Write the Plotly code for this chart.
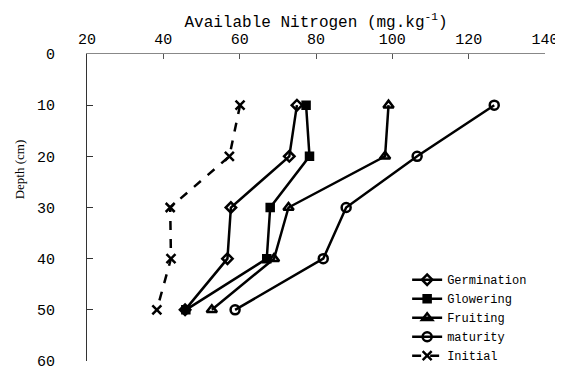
import plotly.graph_objects as go

depth = [10, 20, 30, 40, 50]
germination = [75.0, 73.0, 57.7, 56.8, 45.7]
glowering = [77.4, 78.3, 68.0, 67.1, 45.9]
fruiting = [99.0, 98.1, 72.8, 69.0, 52.7]
maturity = [126.7, 106.5, 87.9, 81.9, 58.8]
initial = [60.1, 57.3, 41.8, 42.0, 38.3]

x_ticks = [20, 40, 60, 80, 100, 120, 140]
y_ticks = [0, 10, 20, 30, 40, 50, 60]

series = [
    ("Germination", germination, "diamond-open", 8, "solid"),
    ("Glowering", glowering, "square", 7, "solid"),
    ("Fruiting", fruiting, "triangle-up-open", 9, "solid"),
    ("maturity", maturity, "circle-open", 9, "solid"),
    ("Initial", initial, "x-thin-open", 9, "dash"),
]

MONO = "Liberation Mono"

fig = go.Figure()
for name, vals, sym, size, dash in series:
    fig.add_trace(go.Scatter(
        x=vals, y=depth, mode="lines+markers", name=name,
        line=dict(color="black", width=2.5, dash=dash),
        marker=dict(symbol=sym, size=size, color="black",
                    line=dict(color="black", width=2.5)),
    ))

# The page body has an 8px margin, so the figure is 8px smaller on each axis.
fig.update_layout(
    width=555, height=363,
    margin=dict(l=79, r=18, t=46, b=10, autoexpand=False),
    paper_bgcolor="white", plot_bgcolor="white",
    font=dict(family=MONO, size=15, color="black"),
    showlegend=True,
    legend=dict(x=0.699, xanchor="left", y=-0.03, yanchor="bottom",
                bgcolor="rgba(0,0,0,0)", font=dict(family=MONO, size=12),
                itemwidth=30, tracegroupgap=0),
    xaxis=dict(side="top", range=[20, 140], tickvals=x_ticks,
               ticks="inside", ticklen=5, tickcolor="#555",
               showline=True, linecolor="#888", linewidth=1,
               showgrid=False, zeroline=False, automargin=False,
               ticklabelstandoff=3, ticklabeloverflow="allow",
               tickfont=dict(family=MONO, size=15),
               title=dict(text="Available Nitrogen (mg.kg<sup>-1</sup>)",
                          font=dict(family=MONO, size=16), standoff=0)),
    yaxis=dict(range=[60, 0], tickvals=y_ticks,
               ticks="inside", ticklen=6, tickcolor="#333",
               showline=True, linecolor="#333", linewidth=1,
               showgrid=False, zeroline=False, automargin=False,
               ticklabelstandoff=28, ticklabeloverflow="allow",
               tickfont=dict(family=MONO, size=15)),
    annotations=[dict(text="Depth (cm)", xref="paper", yref="paper",
                      x=-0.148, y=0.625, xanchor="center", yanchor="middle",
                      textangle=-90, showarrow=False,
                      font=dict(family="Liberation Serif", size=13))],
)

fig.write_html("out.html")
